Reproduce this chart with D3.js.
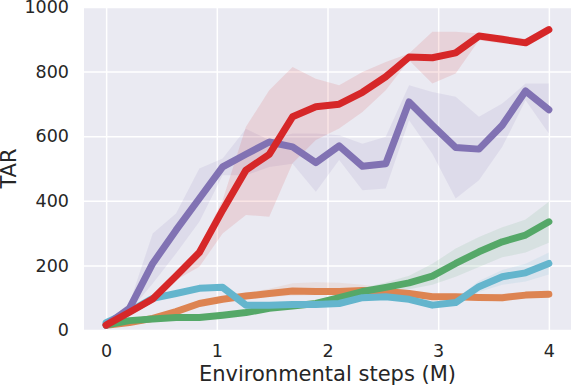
<!DOCTYPE html>
<html>
<head>
	<meta charset="utf-8">
	<script src="https://cdn.jsdelivr.net/npm/d3@7"></script>
	<style>
		body { margin: 0; background: #fff; }
		text { font-family: "DejaVu Sans", sans-serif; fill: #262626; }
	</style>
</head>
<body>
	<svg width="571" height="387"></svg>

	<script>
		// 20 evaluation points between 0 and 4 M steps
		var steps = d3.range(20).map(function(i) { return i * 4 / 19; });
		var xTicks = [0, 1, 2, 3, 4];
		var yTicks = [0, 200, 400, 600, 800, 1000];

		var orangeMean = [15, 23, 36, 57, 82, 95, 105, 113, 121, 119, 119, 122, 119, 113, 103, 103, 101, 100, 108, 111];
		var orangeLow  = [10, 18, 30, 50, 74, 87, 96, 103, 106, 108, 108, 110, 108, 104, 96, 94, 92, 88, 98, 104];
		var orangeHigh = [20, 28, 42, 64, 90, 104, 115, 128, 145, 148, 146, 140, 130, 122, 112, 112, 110, 112, 118, 120];

		var greenMean = [15, 29, 34, 39, 39, 46, 54, 67, 74, 82, 100, 119, 132, 146, 167, 206, 242, 273, 294, 335];
		var greenLow  = [10, 24, 29, 34, 34, 41, 49, 61, 68, 76, 92, 108, 118, 126, 140, 165, 195, 225, 240, 270];
		var greenHigh = [20, 34, 39, 44, 44, 51, 59, 73, 80, 88, 110, 130, 147, 168, 205, 252, 288, 318, 342, 397];

		var cyanMean = [23, 57, 98, 113, 129, 132, 77, 77, 79, 79, 82, 100, 103, 95, 77, 85, 134, 165, 177, 206];
		var cyanLow  = [18, 51, 92, 107, 123, 126, 71, 71, 73, 73, 76, 94, 97, 88, 70, 76, 118, 140, 150, 172];
		var cyanHigh = [28, 63, 104, 119, 135, 138, 83, 83, 85, 85, 88, 106, 109, 102, 84, 96, 152, 186, 205, 240];

		var purpleMean = [15, 67, 206, 309, 407, 505, 544, 582, 567, 518, 570, 507, 515, 706, 634, 565, 560, 634, 740, 682];
		var purpleLow  = [10, 57, 144, 237, 335, 479, 479, 505, 515, 428, 526, 433, 438, 649, 546, 407, 464, 567, 711, 608];
		var purpleHigh = [26, 82, 299, 361, 500, 531, 623, 588, 608, 608, 603, 577, 598, 758, 737, 722, 660, 701, 763, 763];

		var redMean = [15, 55, 96, 167, 240, 371, 495, 544, 660, 691, 699, 736, 784, 845, 843, 858, 910, 900, 889, 930];
		var redLow  = [10, 52, 88, 155, 196, 299, 356, 351, 516, 588, 624, 675, 742, 835, 763, 794, 897, 887, 887, 923];
		var redHigh = [21, 59, 103, 180, 258, 402, 629, 742, 814, 778, 758, 799, 830, 856, 923, 923, 918, 912, 902, 943];

		var series = [
			{ color: '#DD8452', mean: orangeMean, low: orangeLow, high: orangeHigh },
			{ color: '#55A868', mean: greenMean, low: greenLow, high: greenHigh },
			{ color: '#64B5CD', mean: cyanMean, low: cyanLow, high: cyanHigh },
			{ color: '#8172B3', mean: purpleMean, low: purpleLow, high: purpleHigh },
			{ color: '#D62728', mean: redMean, low: redLow, high: redHigh }
		];

		var plotLeft = 84, plotRight = 571, plotTop = 7, plotBottom = 330;

		var xScale = d3.scaleLinear().domain([-0.2, 4.2]).range([plotLeft, plotRight]);
		var yScale = d3.scaleLinear().domain([0, 1000]).range([plotBottom, plotTop]);

		var svg = d3.select('svg');

		svg.append('rect')
			.attr('x', plotLeft)
			.attr('y', plotTop)
			.attr('width', plotRight - plotLeft)
			.attr('height', plotBottom - plotTop)
			.style('fill', '#EAEAF2');

		// grid
		var xAxis = svg.append('g')
			.attr('transform', 'translate(0,' + plotBottom + ')')
			.call(d3.axisBottom(xScale).tickValues(xTicks).tickFormat(d3.format('d'))
				.tickSize(-(plotBottom - plotTop)).tickPadding(10));
		var yAxis = svg.append('g')
			.attr('transform', 'translate(' + plotLeft + ',0)')
			.call(d3.axisLeft(yScale).tickValues(yTicks).tickFormat(d3.format('d'))
				.tickSize(-(plotRight - plotLeft)).tickPadding(15));

		[xAxis, yAxis].forEach(function(ax) {
			ax.select('.domain').remove();
			ax.selectAll('line').style('stroke', '#fff').style('stroke-width', 1.5);
			ax.selectAll('text').style('font-size', '17.5px').style('fill', '#262626');
		});
		xAxis.selectAll('text').attr('dy', '0.95em');

		var area = d3.area()
			.x(function(d, i) { return xScale(steps[i]); })
			.y0(function(d) { return yScale(d[0]); })
			.y1(function(d) { return yScale(d[1]); });

		var line = d3.line()
			.x(function(d, i) { return xScale(steps[i]); })
			.y(function(d) { return yScale(d); });

		var plot = svg.append('g');

		series.forEach(function(s) {
			plot.append('path')
				.datum(s.low.map(function(v, i) { return [v, s.high[i]]; }))
				.attr('d', area)
				.style('fill', s.color)
				.style('fill-opacity', 0.12);
		});

		series.forEach(function(s) {
			plot.append('path')
				.datum(s.mean)
				.attr('d', line)
				.style('fill', 'none')
				.style('stroke', s.color)
				.style('stroke-width', 7)
				.style('stroke-linecap', 'round')
				.style('stroke-linejoin', 'round');
		});

		svg.append('text')
			.attr('x', (plotLeft + plotRight) / 2)
			.attr('y', 381)
			.attr('text-anchor', 'middle')
			.style('font-size', '21px')
			.text('Environmental steps (M)');

		svg.append('text')
			.attr('transform', 'translate(16,' + (plotTop + plotBottom) / 2 + ') rotate(-90)')
			.attr('text-anchor', 'middle')
			.style('font-size', '21px')
			.text('TAR');
	</script>
</body>
</html>
